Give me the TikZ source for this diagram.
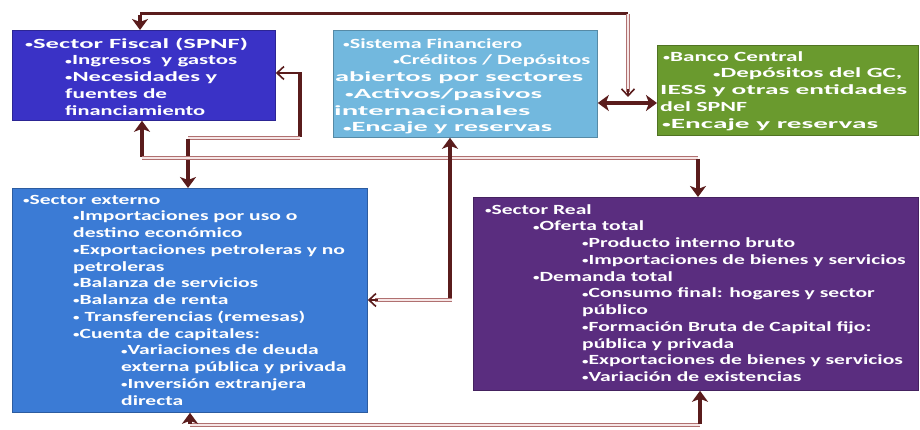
\documentclass[tikz,border=0pt]{standalone}
\usepackage{fontspec}
\newfontfamily\boxfont{Carlito}[FakeStretch=1.54]
\usetikzlibrary{arrows.meta,calc}
\definecolor{fiscalcol}{HTML}{3A32C6}
\definecolor{fincol}{HTML}{72B8DE}
\definecolor{bccol}{HTML}{6A9A2E}
\definecolor{extcol}{HTML}{3B7BD5}
\definecolor{realcol}{HTML}{5A2D7F}
\definecolor{conncol}{HTML}{5A1C1C}
\definecolor{linkcol}{HTML}{B07070}
\definecolor{linkin}{HTML}{F6E6E6}
\newcommand\bul{\raisebox{0.12ex}{\scalebox{0.6}{•}}}
\newcommand\fw[2]{\resizebox{#1pt}{\height}{#2}}
\begin{document}
\begin{tikzpicture}[x=1pt,y=-1pt,
 box/.style={draw=#1!75!black, fill=#1, line width=0.8pt, inner sep=0pt, anchor=north west},
 txt/.style={anchor=north west, inner sep=0pt, align=left, text=white,
   font=\boxfont\bfseries\fontsize{14}{16.75}\selectfont},
 conn/.style={draw=conncol, line width=3.6pt},
 link/.style={draw=linkcol, line width=0.9pt, double=linkin, double distance=1.3pt},
 tip/.style={-{Stealth[length=11pt,width=16pt,inset=3pt]}},
 dtip/.style={{Stealth[length=11pt,width=16pt,inset=3pt]}-{Stealth[length=11pt,width=16pt,inset=3pt]}},
 opentip/.style={draw=conncol, line width=1.6pt, -{Straight Barb[length=7pt,width=13pt]}}
]
\useasboundingbox (0,0) rectangle (920,430);
\fill[white] (0,0) rectangle (920,430);

% boxes
\node[box=fiscalcol, minimum width=263pt, minimum height=90pt] (fiscal) at (12,30) {};
\node[box=fincol, minimum width=264pt, minimum height=107pt] (fin) at (333,30) {};
\node[box=bccol, minimum width=261pt, minimum height=90pt] (bc) at (657,45) {};
\node[box=extcol, minimum width=355pt, minimum height=224pt] (ext) at (12,188) {};
\node[box=realcol, minimum width=445pt, minimum height=193pt] (real) at (473,197) {};

% texts
\node[txt] (fiscalT) at (23,36) {\rule{0pt}{12pt}\hspace*{2pt}\fw{223}{\bul Sector Fiscal (SPNF)}\\
\hspace*{42pt}\fw{172}{\bul Ingresos\ \ y gastos}\\
\hspace*{42pt}\fw{152}{\bul Necesidades y}\\
\hspace*{42pt}\fw{102}{fuentes de}\\
\hspace*{42pt}\fw{140}{financiamiento}};

\node[txt] (finT) at (333,36) {\rule{0pt}{12pt}\hspace*{10pt}\fw{179}{\bul Sistema Financiero}\\
\hspace*{60pt}\fw{197}{\bul Créditos / Depósitos}\\
\hspace*{2pt}\fw{248}{abiertos por sectores}\\
\hspace*{12pt}\fw{197}{\bul Activos/pasivos}\\
\hspace*{1pt}\fw{196}{internacionales}\\
\hspace*{10pt}\fw{209}{\bul Encaje y reservas}};

\node[txt] (bcT) at (660,49) {\rule{0pt}{12pt}\hspace*{3pt}\fw{140}{\bul Banco Central}\\
\hspace*{53pt}\fw{189}{\bul Depósitos del GC,}\\
\fw{247}{IESS y otras entidades}\\
\fw{87}{del SPNF}\\
\hspace*{2pt}\fw{216}{\bul Encaje y reservas}};

\node[txt] (extT) at (23,192) {\rule{0pt}{12pt}\bul Sector externo\\
\hspace*{50pt}\bul Importaciones por uso o\\
\hspace*{50pt}destino económico\\
\hspace*{50pt}\bul Exportaciones petroleras y no\\
\hspace*{50pt}petroleras\\
\hspace*{50pt}\bul Balanza de servicios\\
\hspace*{50pt}\bul Balanza de renta\\
\hspace*{50pt}\bul\ Transferencias (remesas)\\
\hspace*{50pt}\bul Cuenta de capitales:\\
\hspace*{98pt}\bul Variaciones de deuda\\
\hspace*{98pt}externa pública y privada\\
\hspace*{98pt}\bul Inversión extranjera\\
\hspace*{98pt}directa};

\node[txt] (realT) at (485,202) {\rule{0pt}{12pt}\bul Sector Real\\
\hspace*{48pt}\bul Oferta total\\
\hspace*{97pt}\bul Producto interno bruto\\
\hspace*{97pt}\bul Importaciones de bienes y servicios\\
\hspace*{48pt}\bul Demanda total\\
\hspace*{97pt}\bul Consumo final: hogares y sector\\
\hspace*{97pt}público\\
\hspace*{97pt}\bul Formación Bruta de Capital fijo:\\
\hspace*{97pt}pública y privada\\
\hspace*{97pt}\bul Exportaciones de bienes y servicios\\
\hspace*{97pt}\bul Variación de existencias};

% connector coordinates
\coordinate (tr) at (628,14);
\coordinate (tl) at (140,14);
\coordinate (ty) at (628,97);
\coordinate (dy) at (0,103);
\coordinate (fr) at (300,73);
\coordinate (fb) at (300,138);
\coordinate (eb) at (188,138);
\coordinate (j1) at (142,158);
\coordinate (j3) at (698,158);
\coordinate (j2) at (450,300);
\coordinate (b1) at (190,425);
\coordinate (b2) at (700,425);

% top loop
\draw[conn, line width=3pt] (tr) -- (tl);
\draw[conn,tip] ([yshift=-1.5pt]tl) -- (tl |- fiscal.north);
\draw[link] (tr) -- ($(ty)+(0,-5)$);
\draw[opentip] ($(ty)+(0,-8)$) -- (ty);
\draw[conn,dtip] (fin.east |- dy) -- (bc.west |- dy);

% fiscal right loop
\draw[conn] ([yshift=-1pt]fr) -- ([yshift=1pt]fb);
\draw[opentip] ([xshift=1.8pt]fr) -- (fiscal.east |- fr);
\draw[link] (fb) -- (eb);
\draw[conn,tip] ([yshift=-1pt]eb) -- (eb |- ext.north);

% middle line
\draw[conn,tip] ([yshift=1pt]j1) -- (j1 |- fiscal.south);
\draw[link] (j1) -- (j3);
\draw[conn,tip] ([yshift=-1pt]j3) -- (j3 |- real.north);
\draw[conn,tip] ([yshift=1pt]j2) -- (j2 |- fin.south);
\draw[link] ([xshift=1.8pt]j2) -- ($(ext.east |- j2)+(7,0)$);
\draw[opentip] ($(ext.east |- j2)+(10,0)$) -- (ext.east |- j2);

% bottom line
\draw[link] (b1) -- (b2);
\draw[conn,tip] ([yshift=1pt]b1) -- (b1 |- ext.south);
\draw[conn,tip] ([yshift=1pt]b2) -- (b2 |- real.south);
\end{tikzpicture}
\end{document}
